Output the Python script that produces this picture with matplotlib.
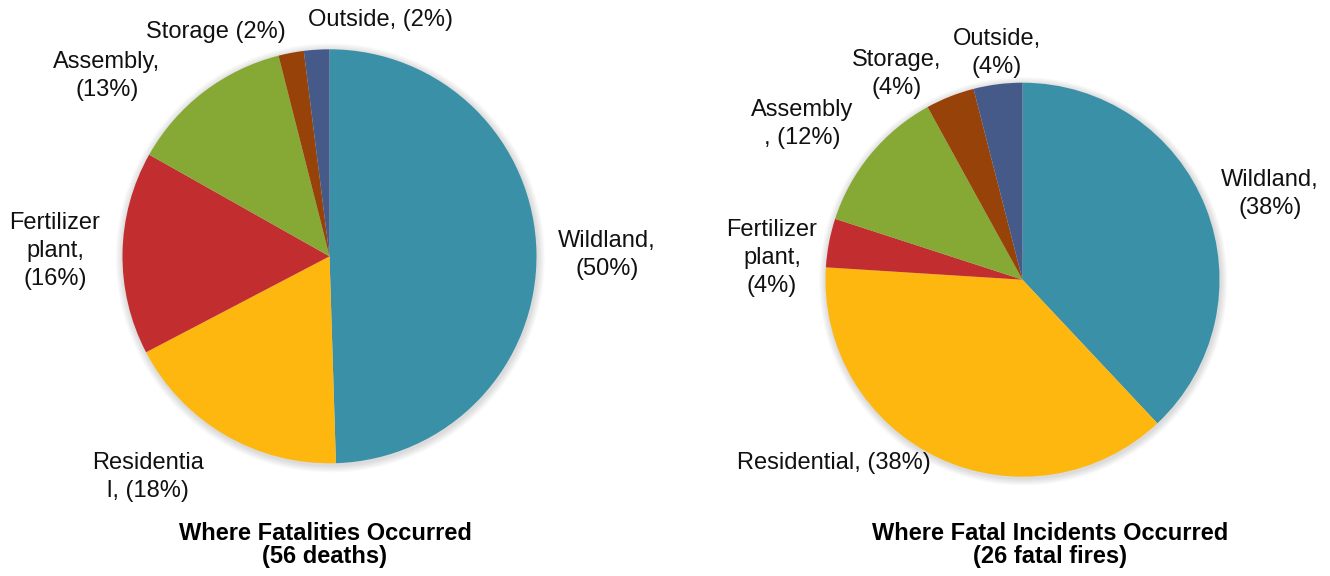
import matplotlib
matplotlib.use('Agg')
from matplotlib import pyplot as plt
from matplotlib.patches import Circle

plt.rcParams['font.family'] = ['Liberation Sans', 'DejaVu Sans']

# slices in clockwise order, starting at 12 o'clock
CATEGORIES = ['Wildland', 'Residential', 'Fertilizer plant', 'Assembly', 'Storage', 'Outside']
COLORS = ['#3A90A7', '#FDB70F', '#C22D30', '#86A935', '#974208', '#465A8A']

DEATHS_PCT = [50, 18, 16, 13, 2, 2]
FIRES_PCT = [38, 38, 4, 12, 4, 4]

DEATHS_LABELS = ['Wildland,\n(50%)', 'Residentia\nl, (18%)', 'Fertilizer\nplant,\n(16%)',
                 'Assembly,\n(13%)', 'Storage (2%)', 'Outside, (2%)']
FIRES_LABELS = ['Wildland,\n(38%)', 'Residential, (38%)', 'Fertilizer\nplant,\n(4%)',
                'Assembly\n, (12%)', 'Storage,\n(4%)', 'Outside,\n(4%)']

TITLES = ['Where Fatalities Occurred\n(56 deaths)', 'Where Fatal Incidents Occurred\n(26 fatal fires)']

W, H = 1330, 576
fig = plt.figure(figsize=(W / 100, H / 100), dpi=100)


def px(x, y):
    return x / W, 1 - y / H


def draw_pie(values, labels, cx, cy, r, label_pos, title, title_x):
    ax = fig.add_axes([(cx - r) / W, 1 - (cy + r) / H, 2 * r / W, 2 * r / H])
    # soft shadow around the pie
    for k in range(6):
        ax.add_patch(Circle((0.004, -0.008), 1 + 0.006 * (k + 1), color='black',
                            alpha=0.025, lw=0, zorder=0, clip_on=False))
    wedges, _ = ax.pie(values, colors=COLORS, startangle=90, counterclock=False,
                       radius=1, wedgeprops=dict(linewidth=0, zorder=2))
    for w in wedges:
        w.set_clip_on(False)
    ax.set_xlim(-1, 1)
    ax.set_ylim(-1, 1)
    ax.set_aspect('equal')
    ax.axis('off')
    for lab, (lx, ly) in zip(labels, label_pos):
        fig.text(*px(lx, ly), lab, ha='center', va='center', fontsize=17,
                 linespacing=1.35, color='#111111')
    fig.text(*px(title_x, 545), title, ha='center', va='center', fontsize=17,
             fontweight='bold', linespacing=1.02)


# label centres in pixels
left_pos = [(607, 255), (148, 477), (55, 251), (107, 76), (216, 32), (380, 20)]
right_pos = [(1270, 194), (834, 463), (772, 258), (802, 124), (897, 74), (997, 53)]

draw_pie(DEATHS_PCT, DEATHS_LABELS, 329.5, 256.3, 207, left_pos, TITLES[0], 325)
draw_pie(FIRES_PCT, FIRES_LABELS, 1022.5, 279.7, 197, right_pos, TITLES[1], 1050)

fig.savefig('out.png', dpi=100)
